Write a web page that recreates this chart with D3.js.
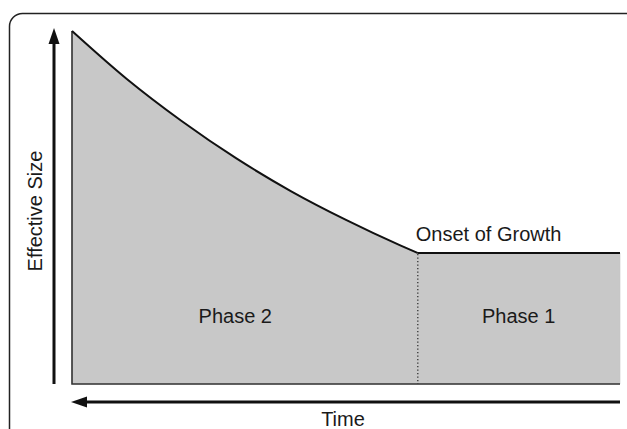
<!DOCTYPE html>
<html>
<head>
<meta charset="utf-8">
<script src="https://cdn.jsdelivr.net/npm/d3@7"></script>
<style>
	html, body { margin: 0; padding: 0; background: #fff; }
	#app { width: 627px; height: 429px; }
	text { font-family: "Liberation Sans", Arial, sans-serif; fill: #1a1a1a; }
</style>
</head>
<body>
<div id="app"></div>
<script>
// time runs 0 (far past, left) .. 1 (present, right)
const times = [0, 0.1, 0.2, 0.3, 0.4, 0.5, 0.6, 0.631, 1.0];
const sizes = [1.0, 0.864, 0.745, 0.639, 0.546, 0.465, 0.392, 0.371, 0.371];
const onset = 0.631;
const phaseLabels = ['Phase 2', 'Phase 1'];
const phaseCenters = [0.298, 0.815];

const render = () => {
	const width = 627;
	const height = 429;

	const svg = d3.select('#app').append('svg')
		.attr('width', width)
		.attr('height', height);

	// frame
	svg.append('rect')
		.attr('x', 9.5)
		.attr('y', 13.5)
		.attr('width', 640)
		.attr('height', 440)
		.attr('rx', 13)
		.attr('fill', 'none')
		.attr('stroke', '#222')
		.attr('stroke-width', 1.5);

	const x = d3.scaleLinear().domain([0, 1]).range([72, 620]);
	const y = d3.scaleLinear().domain([0, 1]).range([384, 31]);

	const points = times.map((t, i) => ({ t, s: sizes[i] }));
	const decline = points.filter((d) => d.t <= onset);
	const flat = points.filter((d) => d.t >= onset);

	const segments = [
		{ data: decline, curve: d3.curveMonotoneX },
		{ data: flat, curve: d3.curveLinear },
	];

	segments.forEach((seg) => {
		const area = d3.area()
			.x((d) => x(d.t))
			.y0(y(0))
			.y1((d) => y(d.s))
			.curve(seg.curve);
		svg.append('path')
			.datum(seg.data)
			.attr('d', area)
			.attr('fill', '#c8c8c8')
			.attr('stroke', '#c8c8c8')
			.attr('stroke-width', 0.6);
	});

	// left and bottom edges of the area
	svg.append('path')
		.attr('d', `M${x(0)},${y(1)}V${y(0)}H${x(1)}`)
		.attr('fill', 'none')
		.attr('stroke', '#333')
		.attr('stroke-width', 1.6);

	segments.forEach((seg) => {
		const line = d3.line()
			.x((d) => x(d.t))
			.y((d) => y(d.s))
			.curve(seg.curve);
		svg.append('path')
			.datum(seg.data)
			.attr('d', line)
			.attr('fill', 'none')
			.attr('stroke', '#111')
			.attr('stroke-width', 2);
	});

	// onset divider
	svg.append('line')
		.attr('x1', x(onset))
		.attr('x2', x(onset))
		.attr('y1', y(sizes[times.indexOf(onset)]) + 1)
		.attr('y2', y(0))
		.attr('stroke', '#333')
		.attr('stroke-width', 1.3)
		.attr('stroke-dasharray', '1.3,2.2');

	svg.append('text')
		.attr('x', x(onset) - 2)
		.attr('y', 241)
		.attr('font-size', 20)
		.text('Onset of Growth');

	svg.selectAll('.phase')
		.data(phaseLabels)
		.join('text')
		.attr('class', 'phase')
		.attr('x', (d, i) => x(phaseCenters[i]))
		.attr('y', 323)
		.attr('text-anchor', 'middle')
		.attr('font-size', 20)
		.text((d) => d);

	// axis arrows
	svg.append('line')
		.attr('x1', 54).attr('x2', 54)
		.attr('y1', y(0)).attr('y2', 40)
		.attr('stroke', '#111')
		.attr('stroke-width', 3);
	svg.append('path')
		.attr('d', 'M54,28L48.5,44L59.5,44Z')
		.attr('fill', '#111');

	svg.append('line')
		.attr('x1', x(1)).attr('x2', 82)
		.attr('y1', 402).attr('y2', 402)
		.attr('stroke', '#111')
		.attr('stroke-width', 3);
	svg.append('path')
		.attr('d', 'M71,402L87,396.5L87,407.5Z')
		.attr('fill', '#111');

	svg.append('text')
		.attr('x', 343)
		.attr('y', 426)
		.attr('text-anchor', 'middle')
		.attr('font-size', 20)
		.text('Time');

	svg.append('text')
		.attr('transform', 'translate(42,211) rotate(-90)')
		.attr('text-anchor', 'middle')
		.attr('font-size', 20)
		.text('Effective Size');
};

render();
</script>
</body>
</html>
